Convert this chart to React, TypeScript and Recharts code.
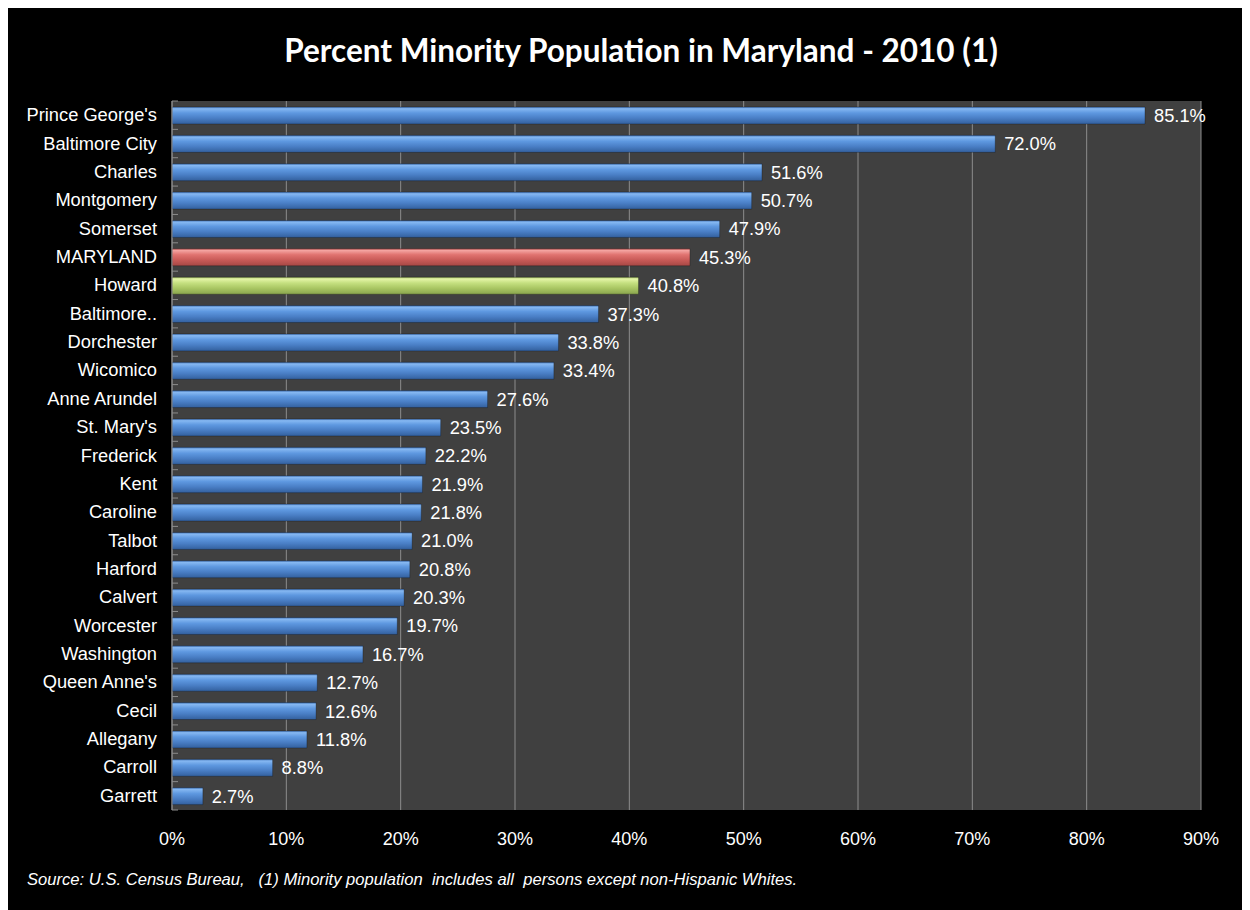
import { Bar, BarChart, CartesianGrid, Cell, LabelList, XAxis, YAxis } from "recharts";

const counties = [
  "Prince George's", "Baltimore City", "Charles", "Montgomery", "Somerset", "MARYLAND", "Howard",
  "Baltimore..", "Dorchester", "Wicomico", "Anne Arundel", "St. Mary's", "Frederick", "Kent",
  "Caroline", "Talbot", "Harford", "Calvert", "Worcester", "Washington", "Queen Anne's", "Cecil",
  "Allegany", "Carroll", "Garrett",
];
const minorityPct = [
  85.1, 72.0, 51.6, 50.7, 47.9, 45.3, 40.8, 37.3, 33.8, 33.4, 27.6, 23.5, 22.2, 21.9, 21.8, 21.0,
  20.8, 20.3, 19.7, 16.7, 12.7, 12.6, 11.8, 8.8, 2.7,
];
const xTicks = [0, 10, 20, 30, 40, 50, 60, 70, 80, 90];

const rows = counties.map((name, i) => ({ name, value: minorityPct[i] }));

const W = 1242;
const H = 902;
const M = { top: 93, right: 49, bottom: 60, left: 14 };
const Y_W = 150;
const X_H = 40;
const plotH = H - M.top - M.bottom - X_H;
const band = plotH / counties.length;

function fillFor(name: string) {
  if (name === "MARYLAND") return "url(#gRed)";
  if (name === "Howard") return "url(#gGreen)";
  return "url(#gBlue)";
}

function CountyTick(props: any) {
  const { x, y, payload } = props;
  return (
    <g>
      <line x1={x + 8} x2={x + 14} y1={y + band / 2} y2={y + band / 2} stroke="#8c8c8c" />
      {payload.index === 0 && <line x1={x + 8} x2={x + 14} y1={y - band / 2} y2={y - band / 2} stroke="#8c8c8c" />}
      <text x={x - 7} y={y} dy={6} textAnchor="end" fill="#fff" fontSize={18.3} fontFamily="Liberation Sans, Arial">
        {payload.value}
      </text>
    </g>
  );
}

export default function App() {
  return (
    <div style={{ position: "relative", width: W, height: H, background: "#000", fontFamily: "Liberation Sans, Arial" }}>
      <div style={{ position: "absolute", top: 23, left: 0, width: 1266, textAlign: "center", color: "#fff", fontFamily: "Lato", fontWeight: 700, fontSize: 31.5 }}>
        Percent Minority Population in Maryland - 2010 (1)
      </div>
      <BarChart width={W} height={H} data={rows} layout="vertical" margin={M} barCategoryGap={0}>
        <defs>
          <linearGradient id="gBlue" x1="0" y1="0" x2="0" y2="1">
            <stop offset="0" stopColor="#3f70b4" />
            <stop offset="0.1" stopColor="#86b8f2" />
            <stop offset="0.35" stopColor="#5e98e0" />
            <stop offset="0.65" stopColor="#4a7fc6" />
            <stop offset="1" stopColor="#33609e" />
          </linearGradient>
          <linearGradient id="gRed" x1="0" y1="0" x2="0" y2="1">
            <stop offset="0" stopColor="#c05a58" />
            <stop offset="0.1" stopColor="#f4a3a0" />
            <stop offset="0.35" stopColor="#e07370" />
            <stop offset="0.65" stopColor="#c95b58" />
            <stop offset="1" stopColor="#a74744" />
          </linearGradient>
          <linearGradient id="gGreen" x1="0" y1="0" x2="0" y2="1">
            <stop offset="0" stopColor="#98b55a" />
            <stop offset="0.1" stopColor="#e5f5a8" />
            <stop offset="0.35" stopColor="#c4df7f" />
            <stop offset="0.65" stopColor="#a9c663" />
            <stop offset="1" stopColor="#8aa54e" />
          </linearGradient>
        </defs>
        <CartesianGrid horizontal={false} stroke="#8c8c8c" fill="#404040" />
        <XAxis
          type="number"
          domain={[0, 90]}
          ticks={xTicks}
          height={X_H}
          tickLine={false}
          axisLine={false}
          tickFormatter={(v) => `${v}%`}
          tick={{ fill: "#fff", fontSize: 18, dy: 14 }}
        />
        <XAxis xAxisId="top" orientation="top" type="number" domain={[0, 90]} height={0} tick={false} tickLine={false} axisLine={{ stroke: "#8c8c8c" }} />
        <YAxis
          type="category"
          dataKey="name"
          width={Y_W}
          tickLine={false}
          axisLine={{ stroke: "#8c8c8c" }}
          interval={0}
          tick={<CountyTick />}
        />
        <Bar dataKey="value" barSize={17} isAnimationActive={false}>
          {rows.map((r) => (
            <Cell key={r.name} fill={fillFor(r.name)} stroke="rgba(0,0,0,0.25)" />
          ))}
          <LabelList
            dataKey="value"
            position="right"
            offset={9}
            fill="#fff"
            fontSize={18.3}
            formatter={(v: any) => `${Number(v).toFixed(1)}%`}
          />
        </Bar>
      </BarChart>
      <div style={{ position: "absolute", left: 19, top: 862, color: "#fff", fontStyle: "italic", fontSize: 16.6, whiteSpace: "pre" }}>
        {"Source: U.S. Census Bureau,   (1) Minority population  includes all  persons except non-Hispanic Whites."}
      </div>
    </div>
  );
}
